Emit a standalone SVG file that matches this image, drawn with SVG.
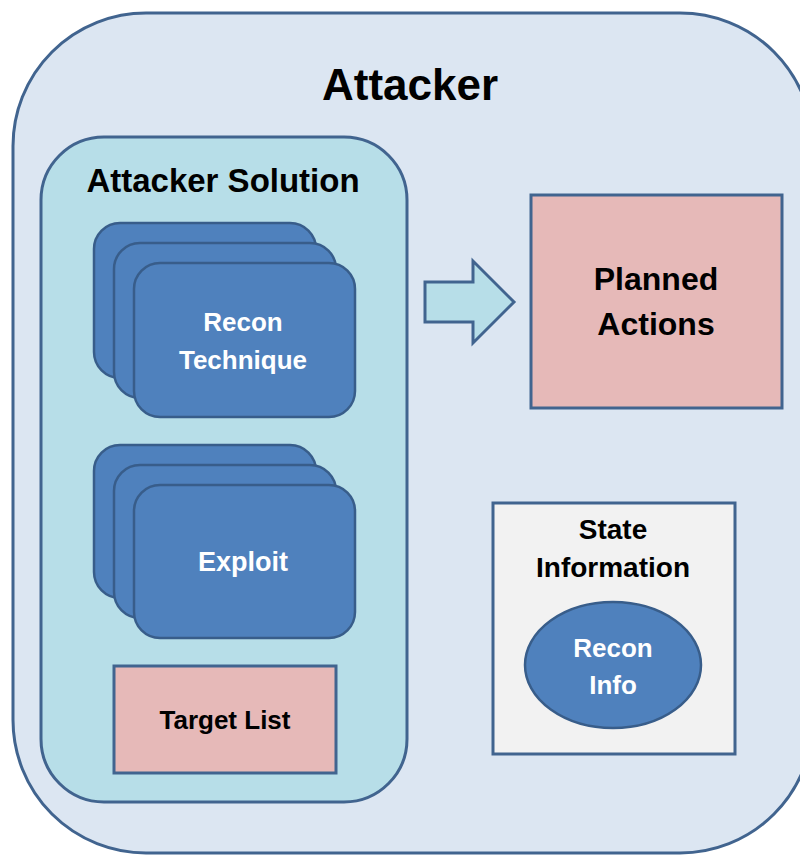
<svg xmlns="http://www.w3.org/2000/svg" width="800" height="856" viewBox="0 0 800 856">
<style>
.outer{fill:#DCE6F2;stroke:#41648F;stroke-width:3}
.inner{fill:#B7DEE8;stroke:#41648F;stroke-width:3}
.card{fill:#4F81BD;stroke:#385D8A;stroke-width:2.5}
.pink{fill:#E6B9B8;stroke:#41648F;stroke-width:3}
.gray{fill:#F2F2F2;stroke:#41648F;stroke-width:3}
.arrow{fill:#B7DEE8;stroke:#41648F;stroke-width:3;stroke-linejoin:miter}
text{font-family:"Liberation Sans",Arial,sans-serif;font-weight:bold;text-anchor:middle}
.dark{fill:#000}
.light{fill:#fff}
</style>
<rect width="800" height="856" fill="#fff"/>
<g id="attacker">
<rect class="outer" x="13" y="13" width="800" height="840" rx="133" ry="133"/>
<text class="dark" x="410" y="100" font-size="44">Attacker</text>
</g>
<g id="attacker-solution">
<rect class="inner" x="41" y="137" width="366" height="665" rx="63" ry="63"/>
<text class="dark" x="223" y="192" font-size="33">Attacker Solution</text>
</g>
<g id="recon-technique">
<rect class="card" x="94" y="223" width="222" height="155" rx="26" ry="26"/>
<rect class="card" x="114" y="243" width="222" height="155" rx="26" ry="26"/>
<rect class="card" x="134" y="263" width="221" height="154" rx="26" ry="26"/>
<text class="light" x="243" y="331" font-size="26">Recon</text>
<text class="light" x="243" y="369" font-size="26">Technique</text>
</g>
<g id="exploit">
<rect class="card" x="94" y="445" width="222" height="153" rx="26" ry="26"/>
<rect class="card" x="114" y="465" width="222" height="153" rx="26" ry="26"/>
<rect class="card" x="134" y="485" width="221" height="153" rx="26" ry="26"/>
<text class="light" x="243" y="571" font-size="27">Exploit</text>
</g>
<g id="target-list">
<rect class="pink" x="114" y="666" width="222" height="107"/>
<text class="dark" x="225" y="729" font-size="26">Target List</text>
</g>
<g id="planned-actions">
<rect class="pink" x="531" y="195" width="251" height="213"/>
<text class="dark" x="656" y="290" font-size="32">Planned</text>
<text class="dark" x="656" y="335" font-size="32">Actions</text>
</g>
<g id="state-information">
<rect class="gray" x="493" y="503" width="242" height="251"/>
<text class="dark" x="613" y="539" font-size="28">State</text>
<text class="dark" x="613" y="577" font-size="28">Information</text>
</g>
<g id="recon-info">
<ellipse class="card" cx="613" cy="665" rx="88" ry="63"/>
<text class="light" x="613" y="657" font-size="26">Recon</text>
<text class="light" x="613" y="694" font-size="26">Info</text>
</g>
<g id="connectors">
<path class="arrow" d="M425,282 L473,282 L473,261 L514,302 L473,343 L473,322 L425,322 Z"/>
</g>
</svg>
